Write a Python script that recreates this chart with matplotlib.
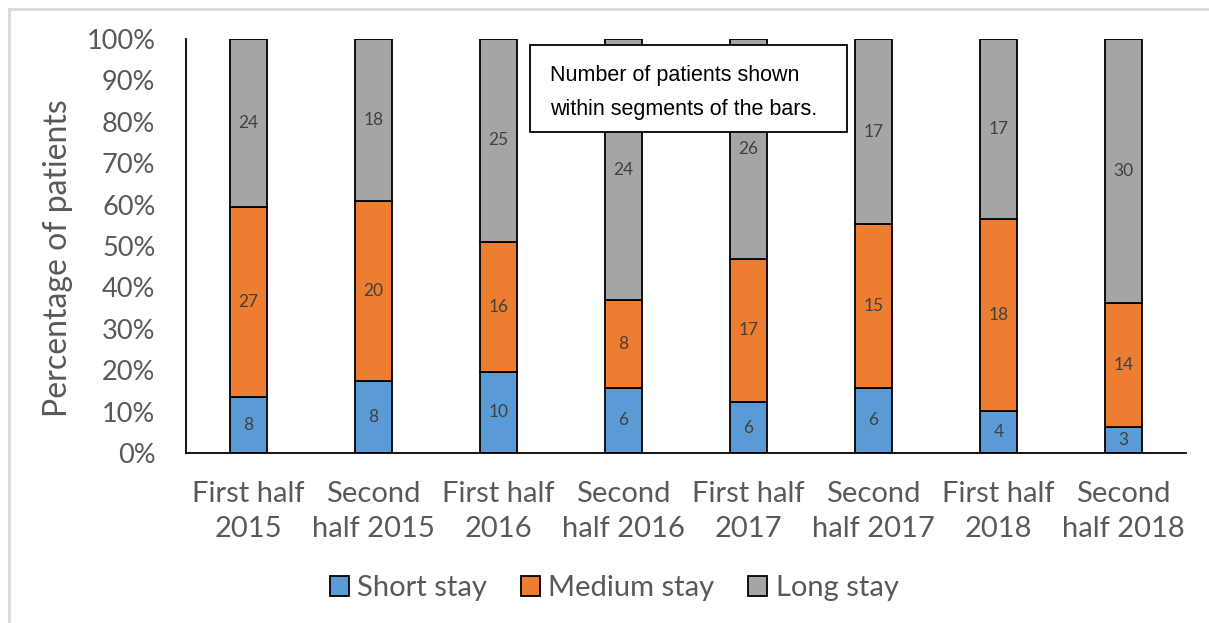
import matplotlib
matplotlib.use("Agg")
import matplotlib.pyplot as plt
from matplotlib.lines import Line2D
from matplotlib.patches import Rectangle
import numpy as np

periods = ["First half\n2015", "Second\nhalf 2015", "First half\n2016", "Second\nhalf 2016",
           "First half\n2017", "Second\nhalf 2017", "First half\n2018", "Second\nhalf 2018"]
short_stay = [8, 8, 10, 6, 6, 6, 4, 3]
medium_stay = [27, 20, 16, 8, 17, 15, 18, 14]
long_stay = [24, 18, 25, 24, 26, 17, 17, 30]

series = [("Short stay", short_stay, "#5b9bd5"),
          ("Medium stay", medium_stay, "#ed7d31"),
          ("Long stay", long_stay, "#a5a5a5")]

FONT = ["Lato", "DejaVu Sans"]
GREY = "#595959"

counts = np.array([s[1] for s in series], dtype=float)
pct = counts / counts.sum(axis=0) * 100

fig = plt.figure(figsize=(12.09, 6.23), dpi=100)
ax = fig.add_axes([0.1538, 0.2729, 0.8272, 0.6645])

x = np.arange(len(periods))
bottom = np.zeros(len(periods))
for (name, vals, color), p in zip(series, pct):
    bars = ax.bar(x, p, 0.3, bottom=bottom, color=color, edgecolor="black",
                  linewidth=1.3, label=name, zorder=2)
    for b, v, bt, h in zip(bars, vals, bottom, p):
        ax.text(b.get_x() + b.get_width() / 2, bt + h / 2, str(v), ha="center",
                va="center", fontsize=12.5, color="#404040", family=FONT)
    bottom += p

ax.set_xlim(-0.5, len(periods) - 0.5)
ax.set_ylim(0, 100)
ax.set_yticks(range(0, 101, 10))
ax.set_yticklabels([f"{t}%" for t in range(0, 101, 10)], family=FONT,
                   fontsize=19.5, color=GREY)
ax.set_xticks(x)
ax.set_xticklabels(periods, family=FONT, fontsize=21, color=GREY, linespacing=1.45)
ax.tick_params(axis="y", length=0, pad=22)
ax.tick_params(axis="x", length=0, pad=20)
ax.set_ylabel("Percentage of patients", family=FONT, fontsize=23, color=GREY)
ax.yaxis.set_label_coords(-0.113, 0.47)
for s in ("top", "right"):
    ax.spines[s].set_visible(False)
for s in ("left", "bottom"):
    ax.spines[s].set_linewidth(1.3)

# note box sitting over the middle bars
ax.add_patch(Rectangle((2.25, 77.5), 2.54, 21.0, facecolor="white", edgecolor="black",
                       linewidth=1.3, zorder=5, clip_on=False))
ax.text(2.41, 91.3, "Number of patients shown", family="Liberation Sans", fontsize=15.5,
        va="center", ha="left", zorder=6)
ax.text(2.41, 82.9, "within segments of the bars.", family="Liberation Sans", fontsize=15.5,
        va="center", ha="left", zorder=6)

leg = fig.legend(loc="center", bbox_to_anchor=(0.508, 0.056), ncol=3, frameon=False,
                 prop={"family": FONT, "size": 21}, handlelength=0.65, handleheight=0.65,
                 handletextpad=0.3, columnspacing=1.15)
for t in leg.get_texts():
    t.set_color(GREY)

# thin grey frame along the left and top edges
fig.add_artist(Line2D([0.0075, 0.0075], [0, 0.986], transform=fig.transFigure,
                      color="#d9d9d9", linewidth=2))
fig.add_artist(Line2D([0.0075, 1], [0.986, 0.986], transform=fig.transFigure,
                      color="#d9d9d9", linewidth=2))

fig.savefig("out.png", dpi=100)
